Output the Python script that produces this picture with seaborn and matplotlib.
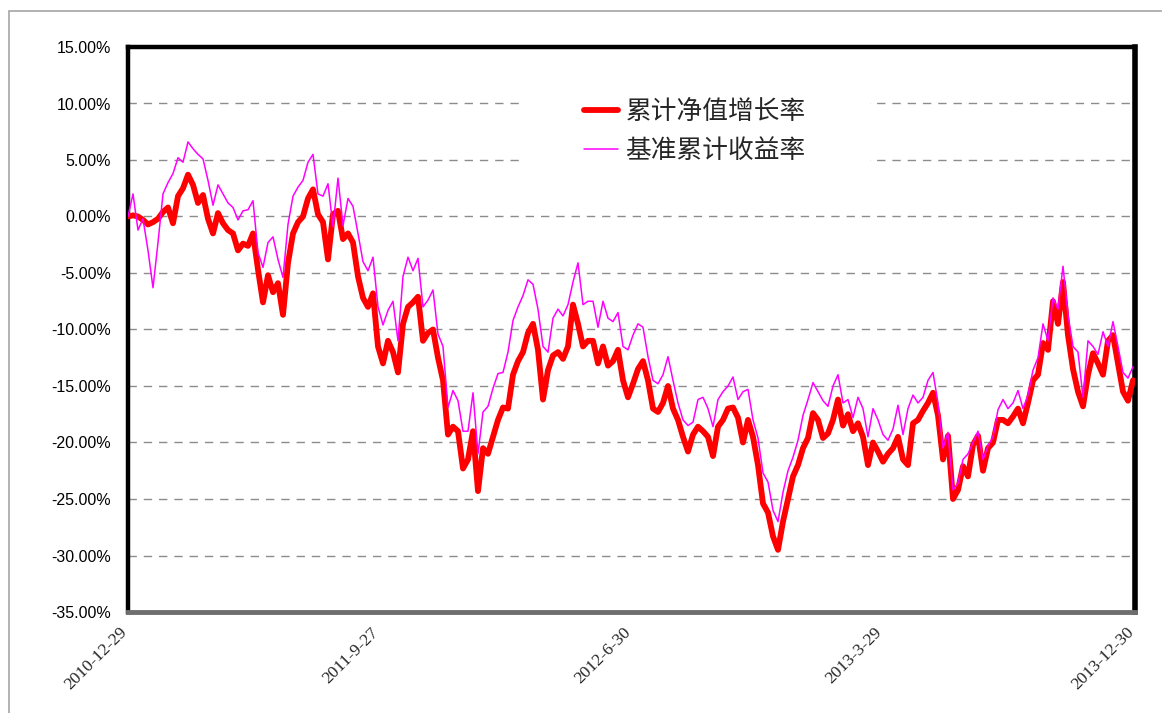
import matplotlib
matplotlib.use("Agg")
import matplotlib.pyplot as plt
from matplotlib.patches import Rectangle
from matplotlib.lines import Line2D
from matplotlib.ticker import FuncFormatter
import matplotlib.transforms as mtransforms
import numpy as np
import pandas as pd
import seaborn as sns

# ---- data (cumulative returns, %) ----
date_labels = ["2010-12-29", "2011-9-27", "2012-6-30", "2013-3-29", "2013-12-30"]
series_names = ["累计净值增长率", "基准累计收益率"]

nav_growth = [
    0.0, 0.1, 0.0, -0.3, -0.7, -0.5, -0.2, 0.4, 0.8, -0.6, 1.8, 2.5, 3.7, 2.8, 1.2, 1.9,
    -0.2, -1.5, 0.3, -0.6, -1.2, -1.5, -3.0, -2.4, -2.6, -1.5, -4.7, -7.6, -5.2, -6.7, -5.9, -8.7,
    -4.1, -1.5, -0.5, 0.0, 1.6, 2.4, 0.2, -0.5, -3.8, 0.2, 0.5, -2.0, -1.5, -2.3, -5.3, -7.2,
    -8.0, -6.8, -11.5, -13.0, -11.0, -12.0, -13.8, -9.5, -8.0, -7.6, -7.1, -11.0, -10.3, -10.0, -12.5, -14.5,
    -19.3, -18.6, -19.0, -22.3, -21.5, -19.0, -24.3, -20.5, -21.0, -19.5, -18.0, -16.9, -17.0, -14.0, -12.8, -12.0,
    -10.3, -9.5, -11.8, -16.2, -13.6, -12.3, -12.0, -12.6, -11.5, -7.8, -9.5, -11.5, -11.0, -11.0, -13.0, -11.5,
    -13.2, -12.8, -11.8, -14.5, -16.0, -14.8, -13.5, -12.8, -14.5, -17.0, -17.3, -16.5, -15.0, -17.0, -18.0, -19.5,
    -20.8, -19.3, -18.6, -19.0, -19.5, -21.2, -18.6, -18.0, -17.0, -16.9, -17.8, -20.0, -18.0, -19.5, -22.0, -25.4,
    -26.2, -28.3, -29.5, -27.0, -25.0, -23.0, -22.0, -20.5, -19.6, -17.4, -18.0, -19.6, -19.2, -18.0, -16.2, -18.5,
    -17.5, -19.0, -18.3, -19.5, -22.0, -20.0, -20.8, -21.7, -21.0, -20.5, -19.5, -21.5, -22.0, -18.3, -18.0, -17.2,
    -16.5, -15.6, -17.6, -21.5, -19.4, -25.0, -24.2, -22.1, -23.0, -20.2, -19.4, -22.5, -20.5, -20.0, -18.0, -18.0,
    -18.3, -17.7, -17.0, -18.3, -16.5, -14.5, -14.0, -11.2, -11.8, -7.5, -9.5, -5.8, -10.5, -13.5, -15.5, -16.8,
    -14.0, -12.1, -13.0, -14.0, -11.0, -10.5, -13.0, -15.5, -16.3, -14.5,
]

benchmark = [
    0.0, 2.0, -1.2, -0.2, -3.0, -6.3, -2.3, 2.0, 3.0, 3.8, 5.2, 4.8, 6.6, 6.0, 5.5, 5.1,
    3.2, 1.0, 2.8, 2.0, 1.2, 0.8, -0.3, 0.5, 0.6, 1.4, -3.2, -4.5, -2.3, -1.8, -3.8, -5.4,
    -0.7, 1.8, 2.6, 3.2, 4.8, 5.5, 2.0, 1.8, 2.9, -0.9, 3.4, -0.8, 1.6, 0.9, -1.5, -4.0,
    -4.8, -3.6, -8.0, -9.6, -8.3, -7.5, -11.0, -5.3, -3.6, -4.8, -3.7, -8.0, -7.4, -6.5, -10.4, -11.5,
    -16.9, -15.4, -16.3, -19.0, -19.0, -15.6, -21.0, -17.3, -16.8, -15.2, -13.9, -13.8, -12.0, -9.2, -8.0, -7.0,
    -5.6, -6.0, -8.2, -11.5, -12.0, -9.0, -8.2, -8.8, -7.8, -5.8, -4.1, -7.8, -7.5, -7.5, -9.8, -7.5,
    -9.0, -9.3, -8.5, -11.5, -11.8, -10.5, -9.5, -9.8, -12.4, -14.5, -14.8, -14.0, -12.4, -14.5, -16.5, -18.0,
    -18.5, -18.2, -16.2, -16.0, -17.0, -18.6, -16.2, -15.5, -15.0, -14.2, -16.2, -15.5, -15.3, -18.0, -19.6, -22.7,
    -23.5, -26.0, -27.0, -24.4, -22.5, -21.3, -19.8, -17.6, -16.2, -14.7, -15.5, -16.3, -16.8, -15.0, -14.0, -16.5,
    -16.2, -17.8, -16.0, -17.0, -19.5, -17.0, -18.0, -19.3, -19.8, -18.8, -16.7, -19.3, -17.0, -15.8, -16.5, -16.0,
    -14.5, -13.8, -16.5, -20.5, -19.1, -24.2, -23.6, -21.5, -21.0, -20.0, -19.0, -21.5, -20.3, -19.5, -17.1, -16.2,
    -17.0, -16.5, -15.4, -17.0, -15.8, -13.6, -12.5, -9.5, -11.0, -7.2, -8.2, -4.4, -8.7, -11.5, -12.0, -16.0,
    -11.0, -11.5, -12.2, -10.2, -11.5, -9.3, -11.5, -13.8, -14.3, -13.3,
]

y_ticks = [15, 10, 5, 0, -5, -10, -15, -20, -25, -30, -35]

# ---- styling ----
sns.set_theme(style="white")
plt.rcParams["font.family"] = ["Liberation Sans", "Noto Sans CJK SC", "DejaVu Sans"]

n = len(nav_growth)
idx = np.arange(n)
df = pd.DataFrame({"idx": np.concatenate([idx, idx]),
                   "value": nav_growth + benchmark,
                   "series": [series_names[0]] * n + [series_names[1]] * n})

fig = plt.figure(figsize=(11.62, 7.13), dpi=100)
fig.patch.set_facecolor("white")
ax = fig.add_axes([128 / 1162, 1 - 612 / 713, (1135 - 128) / 1162, (612 - 47) / 713])

# outer chart-area border
fig.patches.append(Rectangle((9 / 1162, -0.05), 1.2, 1 - 11 / 713 + 0.05,
                             transform=fig.transFigure, fill=False,
                             edgecolor="#a6a6a6", linewidth=1.2, zorder=0))

sns.lineplot(data=df, x="idx", y="value", hue="series",
             palette={series_names[0]: "#FF0000", series_names[1]: "#FF00FF"},
             ax=ax, legend=False, estimator=None)
lines = ax.get_lines()
lines[0].set_linewidth(4.2)
lines[0].set_zorder(3)
lines[0].set_solid_capstyle("round")
lines[0].set_solid_joinstyle("round")
lines[1].set_linewidth(1.1)
lines[1].set_zorder(4)

ax.set_xlim(0, n - 1 + 0.4)
ax.set_ylim(-35, 15)
ax.set_yticks(y_ticks)
ax.yaxis.set_major_formatter(FuncFormatter(lambda v, p: f"{v:.2f}%"))
ax.tick_params(axis="y", length=0, pad=12, labelsize=11.5, labelcolor="black")

xt = np.linspace(0, n - 1 + 0.4, len(date_labels))
ax.set_xticks(xt)
ax.set_xticklabels(date_labels, rotation=45, ha="right", va="top",
                   rotation_mode="anchor", fontfamily="Liberation Serif", fontsize=12.5)
ax.tick_params(axis="x", length=0, pad=9)
offset = mtransforms.ScaledTranslation(-9 / 100, 0, fig.dpi_scale_trans)
for lab in ax.get_xticklabels():
    lab.set_transform(lab.get_transform() + offset)
ax.set_xlabel("")
ax.set_ylabel("")

ax.yaxis.grid(True, color="#8c8c8c", linestyle=(0, (6, 5)), linewidth=1.0, zorder=1)
ax.xaxis.grid(False)
ax.set_axisbelow(True)

for side in ["left", "top", "right"]:
    ax.spines[side].set_color("black")
    ax.spines[side].set_linewidth(3.2)
ax.spines["right"].set_linewidth(4)
ax.spines["bottom"].set_color("#6e6e6e")
ax.spines["bottom"].set_linewidth(3.5)

# white legend background covering gridlines
ax.add_patch(Rectangle((0.391, 0.756), 0.346, 0.194, transform=ax.transAxes,
                       facecolor="white", edgecolor="none", zorder=2))

handles = [Line2D([], [], color="#FF0000", lw=4.2, solid_capstyle="round"),
           Line2D([], [], color="#FF00FF", lw=1.1)]
leg = ax.legend(handles, series_names, loc="center", bbox_to_anchor=(0.563, 0.851),
                frameon=False, handlelength=1.3, handletextpad=0.3, labelspacing=0.5,
                prop={"family": ["Noto Sans CJK SC", "DejaVu Sans"], "size": 18.5})
leg.set_zorder(5)

fig.savefig("out.png", dpi=100, facecolor="white")
